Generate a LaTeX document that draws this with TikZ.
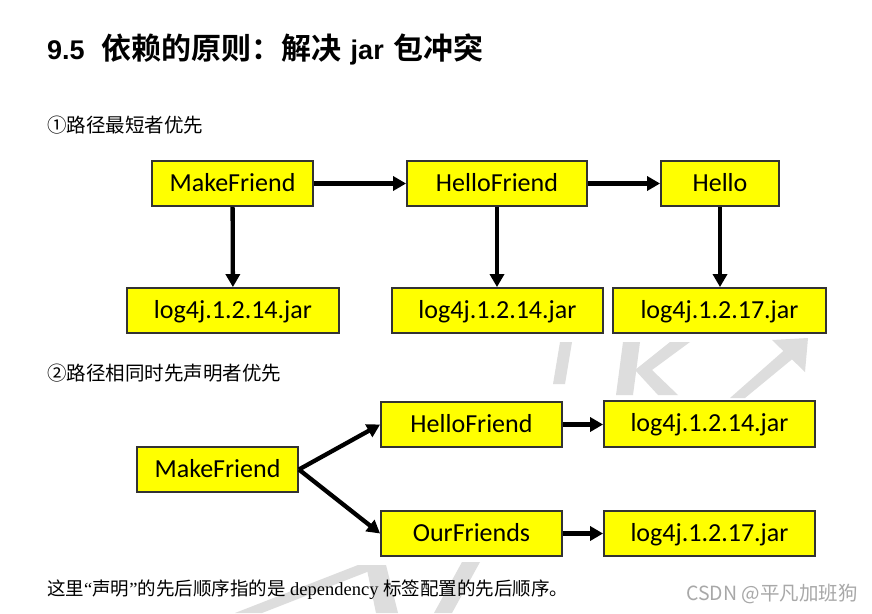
\documentclass[tikz,border=0pt]{standalone}
\usepackage{fontspec}
\setmainfont{Liberation Serif}
\newfontfamily\cjk{Noto Sans CJK SC}
\newfontfamily\cjkb{Noto Sans CJK SC Bold}
\newfontfamily\boxfont{Carlito}
\newfontfamily\arialb{Liberation Sans Bold}
\usetikzlibrary{arrows.meta}
\definecolor{boxyellow}{HTML}{FFFF00}
\definecolor{boxline}{HTML}{333333}
\definecolor{wmgray}{HTML}{DDDDDD}
\definecolor{csdngray}{HTML}{A8A8A8}
\begin{document}
\begin{tikzpicture}[x=1pt,y=-1pt,
  jbox/.style={draw=boxline, line width=1.8pt, fill=boxyellow, inner sep=0pt,
    font=\boxfont\fontsize{26}{28}\selectfont, text=black,
    text height=19pt, text depth=4pt},
  conn/.style={line width=4.3pt, -{Triangle[length=13pt,width=14pt]}},
  txt/.style={anchor=west, inner sep=0pt},
  wm/.style={fill=wmgray, draw=none}]
\useasboundingbox (0,0) rectangle (872,613);
\fill[white] (0,0) rectangle (872,613);
% watermark shapes
\fill[wm] (560,342) -- (572,342) -- (565,384) -- (553,384) -- cycle;
\fill[wm] (623,342) -- (640,342) -- (633,395) -- (616,395) -- cycle;
\fill[wm] (670,342) -- (690,342) -- (652,370) -- (678,395) -- (658,395) -- (635,370) -- cycle;
\fill[wm] (730,398) -- (745,398) -- (796,356) -- (789,346) -- cycle;
\fill[wm] (772,340) -- (808,338) -- (805,372) -- cycle;
\fill[wm] (235,613) -- (262,613) -- (385,565) -- (358,565) -- cycle;
\fill[wm] (366,565) -- (386,565) -- (398,613) -- (376,613) -- cycle;
\fill[wm] (462,562) -- (480,562) -- (452,613) -- (434,613) -- cycle;
% title and texts
\node[txt] (title) at (47,49) {\arialb\fontsize{27}{30}\selectfont 9.5\hspace{17pt}{\cjkb\fontsize{30}{30}\selectfont 依赖的原则：解决}\hspace{9pt}jar\hspace{10pt}{\cjkb\fontsize{30}{30}\selectfont 包冲突}};
\node[txt] (s1) at (47,125) {\cjk\fontsize{19.5}{22}\selectfont ①路径最短者优先};
\node[txt] (s2) at (47,373) {\cjk\fontsize{19.5}{22}\selectfont ②路径相同时先声明者优先};
\node[txt] (note) at (47,590) {\fontsize{18.5}{22}\selectfont{\cjk 这里}“{\cjk 声明}”{\cjk 的先后顺序指的是} dependency {\cjk 标签配置的先后顺序。}};
\node[txt, text=csdngray] (csdn) at (686,594) {\cjk\fontsize{19.5}{22}\selectfont CSDN @平凡加班狗};
% part 1
\node[jbox, minimum width=161pt, minimum height=45pt] (mf1) at (232.5,183.5) {MakeFriend};
\node[jbox, minimum width=180pt, minimum height=45pt] (hf1) at (497,183.5) {HelloFriend};
\node[jbox, minimum width=118pt, minimum height=45pt] (h1) at (720,183.5) {Hello};
\node[jbox, minimum width=212pt, minimum height=45pt] (la) at (233,310.5) {log4j.1.2.14.jar};
\node[jbox, minimum width=211pt, minimum height=45pt] (lb) at (497.5,310.5) {log4j.1.2.14.jar};
\node[jbox, minimum width=213pt, minimum height=45pt] (lc) at (719.5,310.5) {log4j.1.2.17.jar};
\draw[conn] (mf1) -- (hf1);
\draw[conn] (hf1) -- (h1);
\draw[conn] (mf1) -- (la);
\draw[conn] (hf1.south) -- (hf1.south |- lb.north);
\draw[conn] (h1.south) -- (h1.south |- lc.north);
% part 2
\node[jbox, minimum width=161pt, minimum height=45pt] (mf2) at (217.5,469.5) {MakeFriend};
\node[jbox, minimum width=181pt, minimum height=45pt] (hf2) at (471.5,424.5) {HelloFriend};
\node[jbox, minimum width=181pt, minimum height=45pt] (of2) at (471.5,533.5) {OurFriends};
\node[jbox, minimum width=211pt, minimum height=46pt] (ld) at (709.5,424) {log4j.1.2.14.jar};
\node[jbox, minimum width=211pt, minimum height=45pt] (le) at (709.5,533.5) {log4j.1.2.17.jar};
\draw[conn] (mf2.east) -- (hf2.west);
\draw[conn] (mf2.east) -- (of2.west);
\draw[conn] (hf2.east) -- (hf2.east -| ld.west);
\draw[conn] (of2.east) -- (of2.east -| le.west);
\end{tikzpicture}
\end{document}
